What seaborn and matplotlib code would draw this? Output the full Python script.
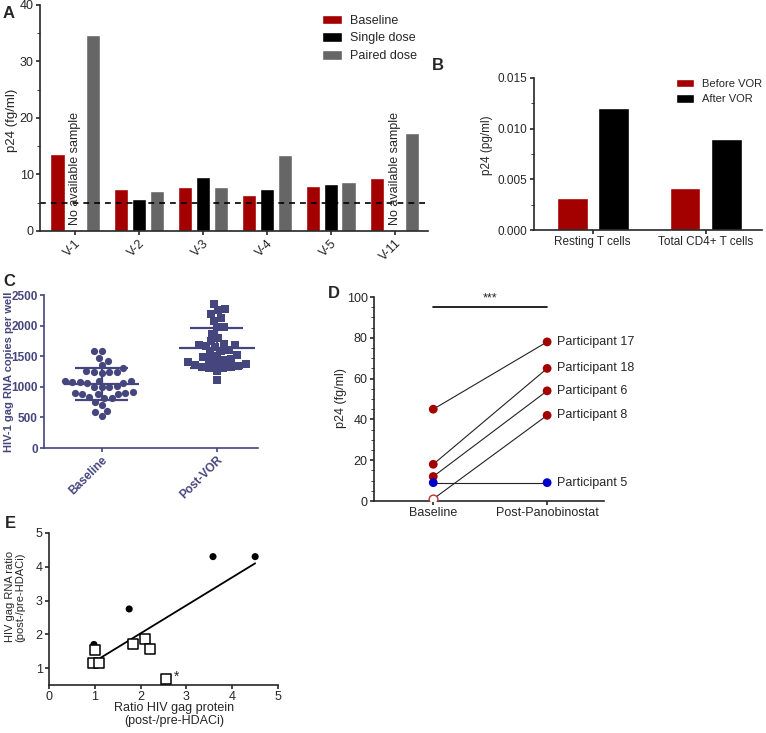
import numpy as np
import pandas as pd
import matplotlib
matplotlib.use("Agg")
import matplotlib.pyplot as plt
from matplotlib.ticker import MultipleLocator
import seaborn as sns

# ------------------------------
# Data
# ------------------------------
# Panel A
a_donors = ["V-1", "V-2", "V-3", "V-4", "V-5", "V-11"]
a_conditions = ["Baseline", "Single dose", "Paired dose"]
a_baseline = [13.6, 7.4, 7.7, 6.4, 8.0, 9.4]
a_single = [np.nan, 5.6, 9.5, 7.5, 8.3, np.nan]
a_paired = [34.7, 7.0, 7.8, 13.5, 8.7, 17.3]
detection_limit = 5

# Panel B
b_cells = ["Resting T cells", "Total CD4+ T cells"]
b_conditions = ["Before VOR", "After VOR"]
b_before = [0.0032, 0.0041]
b_after = [0.0120, 0.0090]

# Panel C
c_groups = ["Baseline", "Post-VOR"]
c_baseline = [1590, 1580, 1470, 1420, 1360, 1310, 1260, 1250, 1240, 1230, 1250,
              1100, 1090, 1080, 1070, 1060, 1080, 1100, 1010, 1000, 990, 1000,
              900, 890, 880, 900, 890, 910, 820, 830, 810, 760, 700, 600, 590, 520]
c_post = [2350, 2270, 2250, 2190, 2130, 2080, 1970, 1970, 1870, 1790, 1750, 1700,
          1680, 1680, 1660, 1650, 1600, 1590, 1560, 1520, 1500, 1480, 1460, 1440,
          1420, 1400, 1380, 1370, 1350, 1340, 1330, 1320, 1310, 1300, 1260, 1110]

# Panel D
d_times = ["Baseline", "Post-Panobinostat"]
d_participants = ["Participant 17", "Participant 18", "Participant 6",
                  "Participant 8", "Participant 5"]
d_baseline = [45, 18, 12, 1, 9]
d_post = [78, 65, 54, 42, 9]
d_group = ["red", "red", "red", "red", "blue"]
d_open_baseline = [False, False, False, True, False]

# Panel E
e_circle_x = [0.98, 1.75, 3.58, 4.50]
e_circle_y = [1.70, 2.75, 4.30, 4.30]
e_square_x = [0.95, 1.00, 1.10, 1.83, 2.10, 2.20, 2.55]
e_square_y = [1.15, 1.55, 1.15, 1.70, 1.87, 1.58, 0.67]
e_starred = [False, False, False, False, False, False, True]
e_fit_slope = 0.829
e_fit_intercept = 0.371

RED = "#a30000"
BLUE = "#0000c8"
GREY = "#666666"
PURPLE = "#46467f"

sns.set_style("ticks")
plt.rcParams["font.family"] = ["Liberation Sans", "DejaVu Sans"]
plt.rcParams["font.size"] = 9
plt.rcParams["axes.linewidth"] = 1.2
for ax_name in ["xtick", "ytick"]:
    plt.rcParams[f"{ax_name}.major.width"] = 1.2
    plt.rcParams[f"{ax_name}.major.size"] = 3
    plt.rcParams[f"{ax_name}.minor.size"] = 2
    plt.rcParams[f"{ax_name}.major.pad"] = 1.5
    plt.rcParams[f"{ax_name}.labelsize"] = 9

fig = plt.figure(figsize=(7.66, 7.33), dpi=100)

# ------------------------------
# Panel A
# ------------------------------
ax_a = fig.add_axes([0.0522, 0.6849, 0.5065, 0.3083])
df_a = pd.DataFrame({
    "donor": a_donors * 3,
    "condition": np.repeat(a_conditions, len(a_donors)),
    "p24": a_baseline + a_single + a_paired,
})
sns.barplot(data=df_a, x="donor", y="p24", hue="condition", order=a_donors,
            hue_order=a_conditions, palette=[RED, "black", GREY], width=0.83,
            gap=0.2, saturation=1, ax=ax_a)
ax_a.axhline(detection_limit, ls=(0, (3.5, 3)), color="black", lw=1.2)
for i, donor in enumerate(a_donors):
    if np.isnan(a_single[i]):
        ax_a.text(i, 1.0, "No available sample", rotation=90, ha="center",
                  va="bottom", fontsize=9)
ax_a.set_ylim(0, 40)
ax_a.set_xlim(-0.55, 5.52)
ax_a.yaxis.set_major_locator(MultipleLocator(10))
ax_a.yaxis.set_minor_locator(MultipleLocator(5))
ax_a.set_xlabel("")
ax_a.set_ylabel("p24 (fg/ml)", fontsize=9.5)
ax_a.yaxis.set_label_coords(-0.057, 0.49)
plt.setp(ax_a.get_xticklabels(), rotation=45, ha="right", rotation_mode="anchor")
handles, labels = ax_a.get_legend_handles_labels()
ax_a.legend(handles, labels, loc="upper left", bbox_to_anchor=(0.71, 0.985),
            frameon=False, fontsize=9, handlelength=1.6, handleheight=0.8,
            labelspacing=0.45, handletextpad=0.7, borderpad=0)
sns.despine(ax=ax_a)

# ------------------------------
# Panel B
# ------------------------------
ax_b = fig.add_axes([0.6971, 0.6862, 0.2977, 0.2074])
df_b = pd.DataFrame({
    "cells": b_cells * 2,
    "condition": np.repeat(b_conditions, len(b_cells)),
    "p24": b_before + b_after,
})
sns.barplot(data=df_b, x="cells", y="p24", hue="condition", order=b_cells,
            hue_order=b_conditions, palette=[RED, "black"], width=0.73,
            gap=0.25, saturation=1, ax=ax_b)
ax_b.set_ylim(0, 0.015)
ax_b.set_xlim(-0.52, 1.5)
ax_b.yaxis.set_major_locator(MultipleLocator(0.005))
ax_b.yaxis.set_minor_locator(MultipleLocator(0.0025))
ax_b.yaxis.set_major_formatter(plt.FormatStrFormatter("%.3f"))
ax_b.tick_params(labelsize=8.5)
ax_b.set_xlabel("")
ax_b.set_ylabel("p24 (pg/ml)", fontsize=8.5)
ax_b.yaxis.set_label_coords(-0.18, 0.56)
handles, labels = ax_b.get_legend_handles_labels()
ax_b.legend(handles, labels, loc="upper left", bbox_to_anchor=(0.6, 1.03),
            frameon=False, fontsize=8, handlelength=1.6, handleheight=0.8,
            labelspacing=0.45, handletextpad=0.7, borderpad=0)
sns.despine(ax=ax_b)

# ------------------------------
# Panel C
# ------------------------------
ax_c = fig.add_axes([0.0574, 0.3888, 0.2794, 0.2087])
df_c = pd.DataFrame({
    "group": ["Baseline"] * len(c_baseline) + ["Post-VOR"] * len(c_post),
    "copies": c_baseline + c_post,
})
for grp, mk in zip(c_groups, ["o", "s"]):
    sns.swarmplot(data=df_c[df_c["group"] == grp], x="group", y="copies",
                  order=c_groups, marker=mk, color=PURPLE, size=5.2, ax=ax_c)
for i, grp in enumerate(c_groups):
    vals = df_c.loc[df_c["group"] == grp, "copies"].to_numpy()
    m, sd = vals.mean(), vals.std(ddof=1)
    ax_c.hlines(m, i - 0.33, i + 0.33, color=PURPLE, lw=1.6)
    ax_c.hlines([m - sd, m + sd], i - 0.23, i + 0.23, color=PURPLE, lw=1.6)
    ax_c.vlines(i, m - sd, m + sd, color=PURPLE, lw=1.6)
ax_c.set_ylim(0, 2500)
ax_c.set_xlim(-0.5, 1.36)
ax_c.yaxis.set_major_locator(MultipleLocator(500))
ax_c.set_xlabel("")
ax_c.set_ylabel("HIV-1 gag RNA copies per well", fontsize=8,
                fontweight="bold", color=PURPLE)
ax_c.yaxis.set_label_coords(-0.142, 0.5)
ax_c.tick_params(colors=PURPLE, labelcolor=PURPLE, labelsize=8.5)
for lab in ax_c.get_xticklabels() + ax_c.get_yticklabels():
    lab.set_fontweight("bold")
plt.setp(ax_c.get_xticklabels(), rotation=45, ha="right", rotation_mode="anchor")
sns.despine(ax=ax_c)
for sp in ["left", "bottom"]:
    ax_c.spines[sp].set_color(PURPLE)

# ------------------------------
# Panel D
# ------------------------------
ax_d = fig.add_axes([0.4883, 0.3165, 0.3003, 0.2783])
df_d = pd.DataFrame({
    "participant": d_participants * 2,
    "time": np.repeat(d_times, len(d_participants)),
    "p24": d_baseline + d_post,
    "group": d_group * 2,
    "open": d_open_baseline + [False] * len(d_participants),
})
df_d["x"] = df_d["time"].map({t: i for i, t in enumerate(d_times)})
sns.lineplot(data=df_d, x="x", y="p24", units="participant", estimator=None,
             color="#222222", lw=0.8, ax=ax_d)
filled = df_d[~df_d["open"]]
sns.scatterplot(data=filled, x="x", y="p24", hue="group",
                palette={"red": RED, "blue": BLUE}, s=40, edgecolor="none",
                legend=False, zorder=3, ax=ax_d)
hollow = df_d[df_d["open"]]
sns.scatterplot(data=hollow, x="x", y="p24", s=40, facecolor="white",
                edgecolor="#c03030", linewidth=1.0, legend=False, zorder=3,
                ax=ax_d)
for name, val in zip(d_participants, d_post):
    ax_d.annotate(name, (1, val), xytext=(7, 0), textcoords="offset points",
                  va="center", ha="left", fontsize=9)
ax_d.plot([0, 1], [95, 95], color="black", lw=1.2)
ax_d.text(0.5, 96.5, "***", ha="center", va="bottom", fontsize=9)
ax_d.set_ylim(0, 100)
ax_d.set_xlim(-0.52, 1.5)
ax_d.set_xticks(range(len(d_times)))
ax_d.set_xticklabels(d_times)
ax_d.yaxis.set_major_locator(MultipleLocator(20))
ax_d.yaxis.set_minor_locator(MultipleLocator(5))
ax_d.set_xlabel("")
ax_d.set_ylabel("p24 (fg/ml)", fontsize=9)
ax_d.yaxis.set_label_coords(-0.117, 0.505)
sns.despine(ax=ax_d)

# ------------------------------
# Panel E
# ------------------------------
ax_e = fig.add_axes([0.064, 0.0655, 0.299, 0.2074])
sns.scatterplot(x=e_circle_x, y=e_circle_y, color="black", s=26,
                edgecolor="none", zorder=3, ax=ax_e)
sns.scatterplot(x=e_square_x, y=e_square_y, marker="s", s=42,
                facecolor="white", edgecolor="black", linewidth=1.1, zorder=3,
                ax=ax_e)
for x, y, star in zip(e_square_x, e_square_y, e_starred):
    if star:
        ax_e.annotate("*", (x, y), xytext=(6, 2), textcoords="offset points",
                      fontsize=10, ha="left", va="center")
fit_x = np.array([min(e_circle_x), max(e_circle_x)])
sns.lineplot(x=fit_x, y=e_fit_slope * fit_x + e_fit_intercept, color="black",
             lw=1.3, ax=ax_e)
ax_e.set_xlim(0, 5)
ax_e.set_ylim(0.5, 5)
ax_e.set_xticks(range(0, 6))
ax_e.set_yticks(range(1, 6))
ax_e.set_xlabel("Ratio HIV gag protein\n(post-/pre-HDACi)", fontsize=9,
                linespacing=1.1)
ax_e.xaxis.set_label_coords(0.545, -0.11)
ax_e.set_ylabel("HIV gag RNA ratio\n(post-/pre-HDACi)", fontsize=8,
                linespacing=1.0)
ax_e.yaxis.set_label_coords(-0.105, 0.58)
sns.despine(ax=ax_e)

# panel letters
for letter, (x, y) in {"A": (3, 14), "B": (432, 66), "C": (3, 282),
                       "D": (328, 294), "E": (5, 524)}.items():
    fig.text(x / 766, 1 - y / 733, letter, fontsize=12, fontweight="bold",
             ha="left", va="center")

fig.savefig("out.png", dpi=100)
